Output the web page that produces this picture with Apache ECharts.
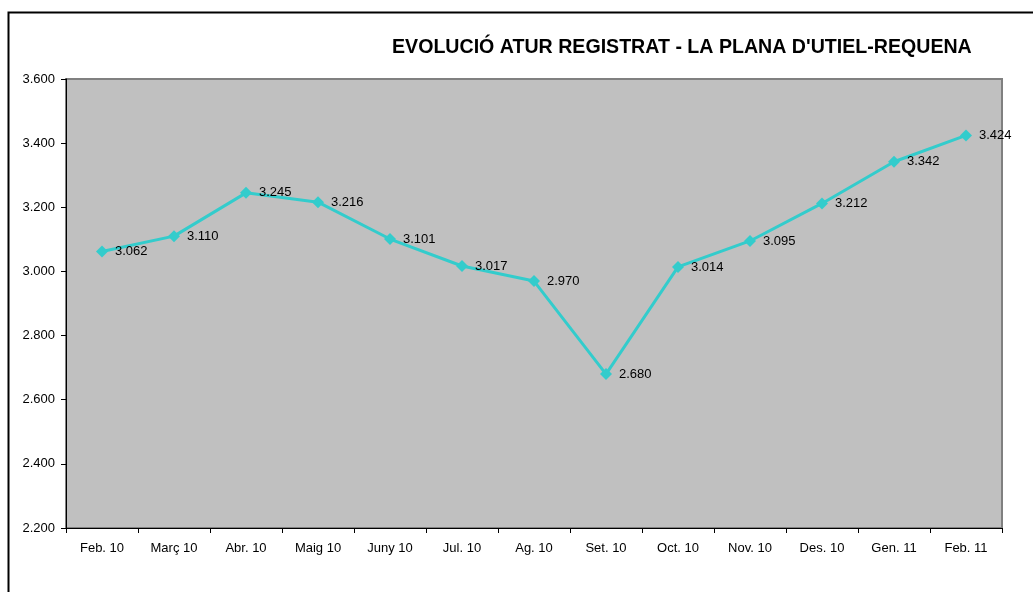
<!DOCTYPE html>
<html>
<head>
<meta charset="utf-8">
<script src="https://cdn.jsdelivr.net/npm/echarts@6/dist/echarts.min.js"></script>
<style>
  html, body { margin: 0; padding: 0; background: #fff; }
  #chart { width: 1033px; height: 592px; }
</style>
</head>
<body>
<div id="chart"></div>
<script>
// dades
const months = ['Feb. 10', 'Març 10', 'Abr. 10', 'Maig 10', 'Juny 10', 'Jul. 10', 'Ag. 10',
  'Set. 10', 'Oct. 10', 'Nov. 10', 'Des. 10', 'Gen. 11', 'Feb. 11']
const atur = [3062, 3110, 3245, 3216, 3101, 3017, 2970, 2680, 3014, 3095, 3212, 3342, 3424]
const yMin = 2200
const yMax = 3600
const yStep = 200

const fmt = (v) => (v / 1000).toFixed(3)
const font = '"Liberation Sans", Arial, sans-serif'

const chart = echarts.init(document.getElementById('chart'))
chart.setOption({
  animation: false,
  textStyle: { fontFamily: font },
  title: {
    text: "EVOLUCIÓ ATUR REGISTRAT - LA PLANA D'UTIEL-REQUENA",
    left: 392,
    top: 38,
    padding: 0,
    textStyle: { fontFamily: font, fontSize: 19.6, fontWeight: 'bold', color: '#000' }
  },
  // marc exterior
  graphic: [{
    type: 'rect',
    shape: { x: 8.5, y: 12.5, width: 1040, height: 600 },
    style: { fill: 'none', stroke: '#000', lineWidth: 2 },
    z: -1
  }],
  grid: {
    left: 66, right: 31, top: 79, bottom: 64,
    show: true,
    backgroundColor: '#C0C0C0',
    borderColor: '#808080',
    borderWidth: 2
  },
  xAxis: {
    type: 'category',
    data: months,
    boundaryGap: true,
    axisLine: { lineStyle: { color: '#000', width: 1 } },
    axisTick: { show: true, length: 5, lineStyle: { color: '#000' } },
    axisLabel: { color: '#000', fontSize: 13, margin: 14, interval: 0 },
    splitLine: { show: false }
  },
  yAxis: {
    type: 'value',
    min: yMin,
    max: yMax,
    interval: yStep,
    axisLine: { show: true, lineStyle: { color: '#000', width: 1 } },
    axisTick: { show: true, length: 5, lineStyle: { color: '#000' } },
    axisLabel: { color: '#000', fontSize: 13, margin: 11, formatter: fmt },
    splitLine: { show: false }
  },
  series: [{
    type: 'line',
    data: atur,
    symbol: 'diamond',
    symbolSize: 12,
    lineStyle: { color: '#33CCCC', width: 3 },
    itemStyle: { color: '#33CCCC' },
    label: {
      show: true,
      position: 'right',
      distance: 7,
      color: '#000',
      fontSize: 13,
      formatter: (p) => fmt(p.value)
    }
  }]
})
</script>
</body>
</html>
